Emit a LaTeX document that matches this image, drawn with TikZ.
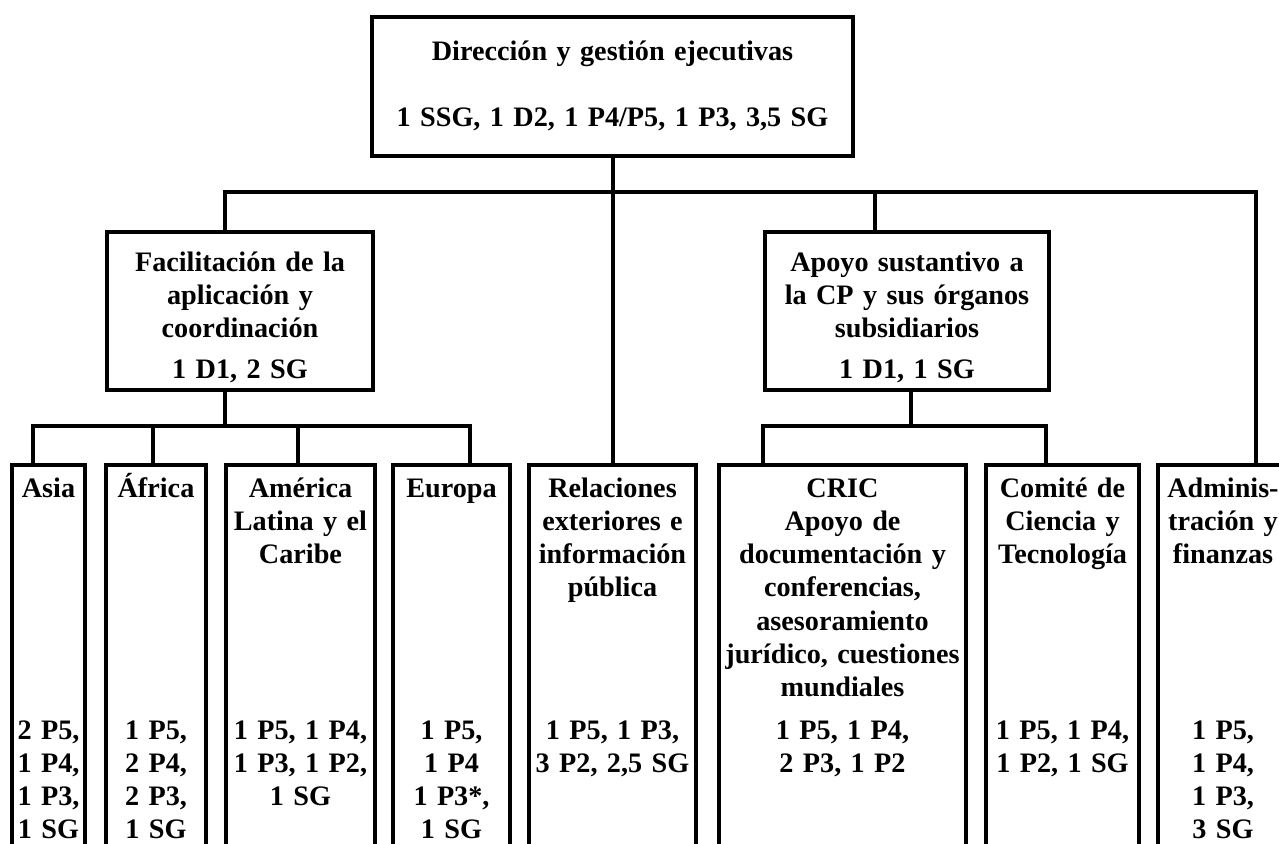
\documentclass[tikz,border=0pt]{standalone}
\usepackage{fontspec}
\setmainfont{Liberation Serif}
\usepackage{tikz}

\begin{document}
\begin{tikzpicture}[x=1pt, y=-1pt,
        box/.style={draw, line width=4pt, rectangle, inner sep=0pt, anchor=north west},
        lbl/.style={inner sep=0pt, text width=520pt, align=center, anchor=base},
        link/.style={line width=4pt, line join=miter},
        font=\fontsize{28.2}{33.3}\selectfont\bfseries]

        % --- Frame (columns run off the page) ---
        \useasboundingbox (0,0) rectangle (1279,843);
        \clip (0,0) rectangle (1279,843);

        % --- Text rows ---
        \coordinate (rowA) at (0,60);
        \coordinate (rowB) at (0,271);
        \coordinate (rowC) at (0,497);
        \coordinate (rowD) at (0,739);

        % --- Top level ---
        \node[box, minimum width=481pt, minimum height=139pt] (dir) at (370,15) {};
        \node[lbl] (dirT) at (dir.north |- rowA) {Dirección y gestión ejecutivas\\[33.5pt]1 SSG, 1 D2, 1 P4/P5, 1 P3, 3,5 SG};

        % --- Second level ---
        \node[box, minimum width=266pt, minimum height=158pt] (fac) at (105,230) {};
        \node[lbl] (facT) at (fac.north |- rowB) {Facilitación de la\\aplicación y\\coordinación\\[8pt]1 D1, 2 SG};

        \node[box, minimum width=284pt, minimum height=158pt] (apo) at (763,230) {};
        \node[lbl] (apoT) at (apo.north |- rowB) {Apoyo sustantivo a\\la CP y sus órganos\\subsidiarios\\[8pt]1 D1, 1 SG};

        % --- Third level ---
        \node[box, minimum width=73pt, minimum height=420pt] (asia) at (10,463) {};
        \node[lbl] (asiaT) at (asia.north |- rowC) {Asia};
        \node[lbl] (asiaS) at (asia.north |- rowD) {2 P5,\\1 P4,\\1 P3,\\1 SG};

        \node[box, minimum width=100pt, minimum height=420pt] (afr) at (104,463) {};
        \node[lbl] (afrT) at (afr.north |- rowC) {África};
        \node[lbl] (afrS) at (afr.north |- rowD) {1 P5,\\2 P4,\\2 P3,\\1 SG};

        \node[box, minimum width=149pt, minimum height=420pt] (ame) at (224,463) {};
        \node[lbl] (ameT) at (ame.north |- rowC) {América\\Latina y el\\Caribe};
        \node[lbl] (ameS) at (ame.north |- rowD) {1 P5, 1 P4,\\1 P3, 1 P2,\\1 SG};

        \node[box, minimum width=117pt, minimum height=420pt] (eur) at (391,463) {};
        \node[lbl] (eurT) at (eur.north |- rowC) {Europa};
        \node[lbl] (eurS) at (eur.north |- rowD) {1 P5,\\1 P4\\1 P3*,\\1 SG};

        \node[box, minimum width=167pt, minimum height=420pt] (rel) at (527,463) {};
        \node[lbl] (relT) at (rel.north |- rowC) {Relaciones\\exteriores e\\información\\pública};
        \node[lbl] (relS) at (rel.north |- rowD) {1 P5, 1 P3,\\3 P2, 2,5 SG};

        \node[box, minimum width=247pt, minimum height=420pt] (cric) at (717,463) {};
        \node[lbl] (cricT) at (cric.north |- rowC) {CRIC\\Apoyo de\\documentación y\\conferencias,\\asesoramiento\\jurídico, cuestiones\\mundiales};
        \node[lbl] (cricS) at (cric.north |- rowD) {1 P5, 1 P4,\\2 P3, 1 P2};

        \node[box, minimum width=153pt, minimum height=420pt] (cyt) at (984,463) {};
        \node[lbl] (cytT) at (cyt.north |- rowC) {Comité de\\Ciencia y\\Tecnología};
        \node[lbl] (cytS) at (cyt.north |- rowD) {1 P5, 1 P4,\\1 P2, 1 SG};

        \node[box, minimum width=130pt, minimum height=420pt] (adm) at (1156,463) {};
        \node[lbl] (admT) at (adm.north |- rowC) {Adminis-\\tración y\\finanzas};
        \node[lbl] (admS) at (adm.north |- rowD) {1 P5,\\1 P4,\\1 P3,\\3 SG};

        % --- Main bar ---
        \coordinate (barL) at (225,192);
        \coordinate (barA) at (875,192);
        \coordinate (barR) at (1256,192);
        \draw[link] (dir.south) -- (rel.north);
        \draw[link] (barL |- fac.north) -- (barL) -- (barR) -- (barR |- adm.north);
        \draw[link] (barA) -- (barA |- apo.north);

        % --- Regional bar ---
        \coordinate (subL1) at (33,426);
        \coordinate (subL2) at (153,426);
        \coordinate (subL3) at (298,426);
        \coordinate (subL4) at (470,426);
        \draw[link] (barL |- fac.south) -- (barL |- subL1);
        \draw[link] (subL1 |- asia.north) -- (subL1) -- (subL4) -- (subL4 |- eur.north);
        \draw[link] (subL2) -- (subL2 |- afr.north);
        \draw[link] (subL3) -- (subL3 |- ame.north);

        % --- Support bar ---
        \coordinate (subR1) at (763,426);
        \coordinate (subRm) at (911,426);
        \coordinate (subR2) at (1046,426);
        \draw[link] (subRm |- apo.south) -- (subRm);
        \draw[link] (subR1 |- cric.north) -- (subR1) -- (subR2) -- (subR2 |- cyt.north);

    \end{tikzpicture}
\end{document}
